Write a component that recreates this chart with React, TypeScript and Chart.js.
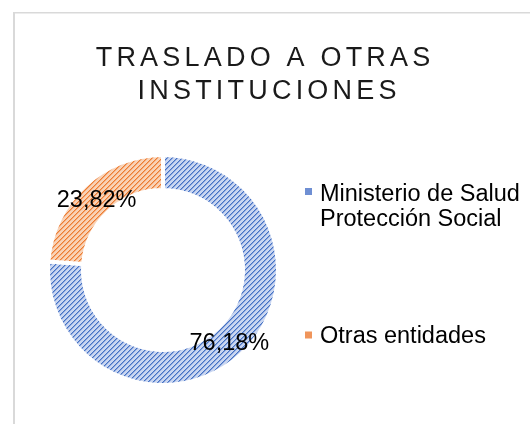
import React, { useEffect, useRef } from "react";
import { Chart, registerables } from "chart.js";

Chart.register(...registerables);

const titleLines = ["TRASLADO A OTRAS", "INSTITUCIONES"];
const categories: (string | string[])[] = [["Ministerio de Salud", "Protección Social"], "Otras entidades"];
const values = [76.18, 23.82];
const fgColors = ["#4472c4", "#ed7d31"];
const bgColors = ["#c9d6f1", "#f9d2b6"];
const midColors = ["#8aa4dc", "#f3a878"];
const markerColors = ["#6f8fd3", "#f0955b"];

const FONT = '"Liberation Sans", Arial, sans-serif';

function makePattern(fg: string, mid: string, bg: string): CanvasPattern | string {
  const n = 5;
  const c = document.createElement("canvas");
  c.width = n;
  c.height = n;
  const g = c.getContext("2d");
  if (!g) return fg;
  g.fillStyle = bg;
  g.fillRect(0, 0, n, n);
  for (let x = 0; x < n; x++) {
    g.fillStyle = fg;
    g.fillRect(x, (n - 1 - x + n) % n, 1, 1);
    g.fillStyle = mid;
    g.fillRect(x, (n - x) % n, 1, 1);
  }
  const p = g.createPattern(c, "repeat");
  return p || fg;
}

const fmt = (v: number) => v.toFixed(2).replace(".", ",") + "%";

export default function App() {
  const ref = useRef<HTMLCanvasElement | null>(null);
  useEffect(() => {
    if (!ref.current) return;
    const patterns = values.map((_, i) => makePattern(fgColors[i], midColors[i], bgColors[i]));

    const decor = {
      id: "decor",
      beforeDraw(chart: any) {
        const ctx = chart.ctx as CanvasRenderingContext2D;
        ctx.save();
        ctx.fillStyle = "#ffffff";
        ctx.fillRect(0, 0, chart.width, chart.height);
        ctx.fillStyle = "#d9d9d9";
        ctx.fillRect(13, 12, 600, 1.5);
        ctx.fillRect(13, 12, 2, 600);
        // title
        ctx.fillStyle = "#1a1a1a";
        ctx.font = `27px ${FONT}`;
        ctx.textAlign = "left";
        ctx.textBaseline = "alphabetic";
        const spacing = 4.2;
        (ctx as any).letterSpacing = spacing + "px";
        const baselines = [66, 98.5];
        const centers = [263, 267];
        titleLines.forEach((t, i) => {
          const w = ctx.measureText(t).width - spacing;
          ctx.fillText(t, centers[i] - w / 2, baselines[i]);
        });
        (ctx as any).letterSpacing = "0px";
        ctx.restore();
      },
      afterDatasetsDraw(chart: any) {
        const ctx = chart.ctx as CanvasRenderingContext2D;
        const meta = chart.getDatasetMeta(0);
        const ds = chart.data.datasets[0];
        ctx.save();
        ctx.fillStyle = "#000000";
        ctx.font = `23.5px ${FONT}`;
        ctx.textAlign = "center";
        ctx.textBaseline = "middle";
        meta.data.forEach((arc: any, i: number) => {
          const pos = arc.tooltipPosition();
          ctx.fillText(fmt(ds.data[i] as number), pos.x, pos.y + 2);
        });
        // legend
        const items = [
          { markerY: 191.5, baselines: [200.5, 225.5] },
          { markerY: 335, baselines: [343] },
        ];
        ctx.textAlign = "left";
        ctx.textBaseline = "alphabetic";
        chart.data.labels.forEach((lab: string | string[], i: number) => {
          const it = items[i];
          ctx.fillStyle = markerColors[i];
          ctx.fillRect(305, it.markerY - 3.5, 7, 7);
          ctx.fillStyle = "#000000";
          const lines = Array.isArray(lab) ? lab : [lab];
          lines.forEach((ln, j) => ctx.fillText(ln, 320, it.baselines[j]));
        });
        ctx.restore();
      },
    };

    const chart = new Chart(ref.current, {
      type: "doughnut",
      data: {
        labels: categories as any,
        datasets: [
          {
            data: values,
            backgroundColor: patterns as any,
            borderColor: "#ffffff",
            borderWidth: 4,
          },
        ],
      },
      options: {
        responsive: false,
        animation: false,
        cutout: "69.6%",
        layout: { padding: { left: 46, right: 250, top: 153, bottom: 37 } },
        plugins: {
          legend: { display: false },
          title: { display: false },
          tooltip: { enabled: false },
        },
      },
      plugins: [decor],
    });
    return () => chart.destroy();
  }, []);
  return (
    <div style={{ position: "fixed", left: 0, top: 0, width: 530, height: 424, background: "#fff" }}>
      <canvas ref={ref} width={530} height={424} style={{ display: "block", width: 530, height: 424 }} />
    </div>
  );
}
